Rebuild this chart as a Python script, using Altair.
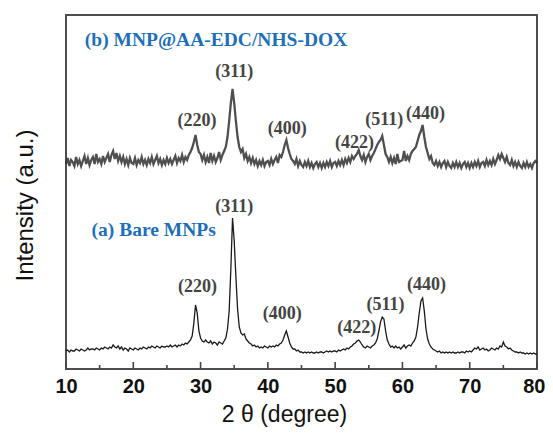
import altair as alt
import pandas as pd

# 2-theta grid (degrees), 0.25 deg steps from 10 to 80
two_theta = [round(10 + 0.25 * i, 2) for i in range(281)]

# (a) Bare MNPs - intensity (a.u.)
bare = [
    18, 19, 17, 19,  18, 18, 20, 19,  18, 20, 19, 18,  19, 21, 19, 20,
    20, 19, 21, 20,  19, 21, 20, 22,  21, 20, 22, 21,  24, 22, 21, 23,
    20, 22, 19, 21,  20, 18, 21, 20,  19, 21, 20, 19,  21, 20, 22, 21,
    20, 22, 21, 23,  22, 21, 23, 22,  21, 23, 22, 22,  23, 22, 24, 22,
    23, 24, 22, 24,  23, 25, 24, 26,  25, 27, 29, 33,  46, 64, 56, 38,
    31, 28, 27, 29,  27, 26, 28, 25,  27, 26, 24, 27,  26, 25, 28, 31,
    40, 58, 100, 151, 128, 92, 60, 42, 36, 34, 35, 30, 28, 26, 25, 23,
    24, 22, 23, 21,  22, 21, 23, 22,  21, 23, 22, 23,  22, 24, 23, 25,
    26, 29, 34, 38,  32, 26, 22, 20,  20, 18, 19, 17,  17, 16, 17, 16,
    17, 16, 17, 16,  16, 17, 16, 17,  17, 16, 17, 18,  17, 18, 17, 18,
    18, 17, 19, 18,  19, 20, 19, 21,  20, 22, 23, 25,  26, 28, 29, 27,
    24, 22, 21, 23,  22, 21, 23, 24,  26, 30, 38, 47,  52, 50, 38, 29,
    25, 22, 23, 21,  23, 21, 22, 20,  22, 24, 21, 23,  24, 23, 26, 28,
    32, 42, 56, 68,  71, 58, 40, 30,  25, 22, 20, 19,  18, 17, 18, 16,
    17, 16, 17, 16,  17, 16, 17, 16,  16, 17, 16, 17,  17, 16, 18, 17,
    18, 17, 19, 21,  20, 22, 19, 20,  21, 19, 20, 18,  19, 21, 20, 19,
    21, 20, 23, 22,  27, 23, 22, 20,  21, 19, 18, 17,  17, 16, 17, 16,
    16, 15, 16, 15,  16, 15, 16, 15,  15,
]

# (b) MNP@AA-EDC/NHS-DOX - intensity (a.u., offset trace)
coated = [
    205, 211, 203, 209,  207, 203, 212, 205,  209, 203, 208, 213,  205, 211, 204, 209,
    212, 205, 215, 207,  210, 205, 213, 207,  211, 215, 207, 214,  218, 210, 216, 208,
    213, 207, 212, 205,  210, 204, 211, 206,  205, 211, 204, 209,  206, 212, 205, 209,
    204, 210, 206, 212,  205, 209, 213, 206,  210, 204, 209, 205,  211, 206, 210, 205,
    209, 213, 206, 211,  208, 214, 207, 212,  209, 214, 217, 221,  227, 234, 224, 217,
    215, 209, 214, 207,  212, 206, 216, 208,  213, 207, 211, 217,  209, 214, 218, 222,
    232, 248, 266, 280,  266, 248, 232, 222,  217, 220, 211, 215,  208, 212, 206, 211,
    205, 209, 203, 208,  204, 209, 203, 207,  208, 204, 210, 205,  209, 212, 206, 214,
    212, 217, 224, 229,  221, 215, 210, 208,  205, 210, 203, 208,  204, 202, 207, 203,
    208, 202, 206, 201,  205, 207, 202, 206,  201, 206, 202, 207,  203, 208, 202, 206,
    207, 203, 208, 204,  209, 204, 210, 206,  211, 207, 213, 210,  213, 215, 219, 213,
    209, 214, 207, 212,  215, 209, 213, 216,  220, 224, 227, 229,  233, 224, 215, 212,
    207, 212, 206, 211,  205, 215, 207, 208,  209, 218, 208, 213,  209, 215, 218, 220,
    222, 228, 234, 238,  244, 232, 222, 216,  210, 213, 206, 204,  208, 203, 207, 202,
    206, 208, 202, 207,  203, 201, 206, 202,  207, 202, 206, 201,  205, 207, 202, 206,
    201, 206, 202, 207,  203, 208, 202, 206,  207, 203, 209, 204,  208, 204, 210, 205,
    209, 214, 210, 215,  211, 207, 212, 206,  204, 209, 203, 207,  202, 207, 203, 201,
    206, 202, 207, 202,  205, 201, 206, 208,  206,
]

# peak labels
hkl_text = ["(220)", "(311)", "(400)", "(422)", "(511)", "(440)"]
hkl_x_b = [29.47, 34.99, 42.87, 52.87, 57.31, 63.42]
hkl_y_b = [248.5, 296.8, 240.2, 225.8, 249.2, 255.2]
hkl_x_a = [29.56, 34.99, 42.13, 53.21, 57.50, 63.56]
hkl_y_a = [81.8, 162.5, 55.2, 41.2, 64.2, 84.5]

series_names = ["(b) MNP@AA-EDC/NHS-DOX", "(a) Bare MNPs"]
series_x = [12.8, 13.8]
series_y = [329.0, 139.2]

major_ticks = [10, 20, 30, 40, 50, 60, 70, 80]
minor_ticks = [15, 25, 35, 45, 55, 65, 75]

df_a = pd.DataFrame({"theta": two_theta, "I": bare})
df_b = pd.DataFrame({"theta": two_theta, "I": coated})
df_lab = pd.DataFrame({
    "theta": hkl_x_b + hkl_x_a,
    "I": hkl_y_b + hkl_y_a,
    "label": hkl_text + hkl_text,
})
df_ser = pd.DataFrame({"theta": series_x, "I": series_y, "label": series_names})
df_major = pd.DataFrame({"theta": major_ticks})
df_minor = pd.DataFrame({"theta": minor_ticks})

xscale = alt.Scale(domain=[10, 80], nice=False, zero=False)
yscale = alt.Scale(domain=[0, 354], nice=False, zero=False)

xaxis = alt.Axis(
    values=major_ticks, title="2 θ (degree)", format="d",
    labelFont="Liberation Sans", labelFontWeight="bold", labelFontSize=20,
    labelColor="#111111", labelPadding=7, labelFlush=False, labelOverlap=False,
    labelAlign=alt.ExprRef(expr="datum.value == 80 ? 'right' : 'center'"),
    labelOffset=alt.ExprRef(expr="datum.value == 80 ? 8 : 0"),
    ticks=False, domain=False, grid=False,
    titleFont="Liberation Sans", titleFontSize=23, titleFontWeight="normal",
    titleColor="#111111", titleX=218, titleY=52, titleBaseline="alphabetic",
    titleAlign="center",
)
yaxis = alt.Axis(
    labels=False, ticks=False, domain=False, grid=False,
    title="Intensity (a.u.)", titleFont="Liberation Sans", titleFontSize=24,
    titleFontWeight="normal", titleColor="#111111",
    titleX=-41, titleY=190, titleAngle=270, titleBaseline="middle", titleAlign="center",
)

X = alt.X("theta:Q", scale=xscale, axis=xaxis)
Y = alt.Y("I:Q", scale=yscale, axis=yaxis)

line_b = alt.Chart(df_b).mark_line(color="#303030", strokeWidth=2.3, opacity=0.85).encode(x=X, y=Y)
line_a = alt.Chart(df_a).mark_line(color="#1a1a1a", strokeWidth=1.3).encode(x=X, y=Y)

ticks_major = alt.Chart(df_major).mark_rule(color="#444444", strokeWidth=1.6).encode(
    x=alt.X("theta:Q", scale=xscale), y=alt.value(354), y2=alt.value(347)
)
ticks_minor = alt.Chart(df_minor).mark_rule(color="#444444", strokeWidth=1.6).encode(
    x=alt.X("theta:Q", scale=xscale), y=alt.value(354), y2=alt.value(350)
)

labels = alt.Chart(df_lab).mark_text(
    font="Liberation Serif", fontSize=18, fontWeight="bold", color="#444444",
    align="center", baseline="middle",
).encode(x=alt.X("theta:Q", scale=xscale), y=alt.Y("I:Q", scale=yscale), text="label:N")

series = alt.Chart(df_ser).mark_text(
    font="Liberation Serif", fontSize=19.5, fontWeight="bold", color="#1f6fb6",
    align="left", baseline="middle",
).encode(x=alt.X("theta:Q", scale=xscale), y=alt.Y("I:Q", scale=yscale), text="label:N")

chart = alt.layer(line_b, line_a, ticks_major, ticks_minor, labels, series).properties(
    width=471, height=354,
    background="white",
    autosize=alt.AutoSizeParams(type="none"),
    padding={"left": 58, "top": 7, "right": 8, "bottom": 58},
).configure_view(stroke="#4d4d4d", strokeWidth=2)

chart.save("out.html", embed_options={"renderer": "svg", "actions": False})
